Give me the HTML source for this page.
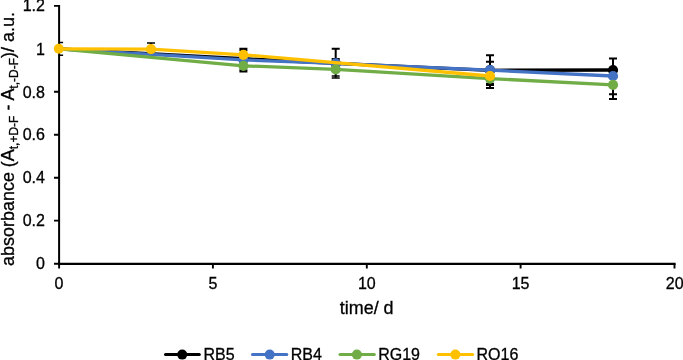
<!DOCTYPE html>
<html><head><meta charset="utf-8"><title>chart</title>
<style>
html,body{margin:0;padding:0;background:#fff;}
body{width:683px;height:360px;overflow:hidden;}
svg{display:block;will-change:transform;}
text{font-family:"Liberation Sans",Arial,Helvetica,sans-serif;fill:#000;stroke:#000;stroke-width:0.3px;}
.tk{font-size:16px;}
.ti{font-size:17.95px;}
.sub{font-size:12px;}
</style></head><body>
<svg width="683" height="360" viewBox="0 0 683 360">
<rect x="0" y="0" width="683" height="360" fill="#fff"/>

<!-- error bars -->
<g stroke="#000" stroke-width="2" fill="none">
  <path d="M59 42.5H63.1M59 55.2H63.1" stroke-width="1.6"/>
  <path d="M151 43.1V49M147 43.1H155" stroke-width="1.5"/>
  <path d="M243.4 48.8V70.9"/><path d="M239.4 49.45H247.4M239.4 70.8H247.4" stroke-width="3.2"/>
  <path d="M335.7 48.8V77.7M331.7 48.8H339.7M331.7 58.9H339.7"/>
  <path d="M331.7 76H339.7M331.7 77.9H339.7" stroke-width="1.5"/>
  <path d="M490 55.2V88.3M486 55.2H494M486 61.8H494M486 83.8H494M486 85.1H494M486 88.1H494"/>
  <path d="M613 58.6V98.9M609 58.6H617M609 94.3H617M609 98.9H617"/>
</g>

<!-- series -->
<g fill="none" stroke-width="3.3" stroke-linejoin="round" stroke-linecap="round">
  <polyline stroke="#000000" points="59.1,48.8 243.4,58.7 335.7,63.4 490,70.3 613,70"/>
  <g fill="#000000"><circle cx="613" cy="70" r="5.1"/><circle cx="490" cy="70.2" r="5.1"/><circle cx="335.7" cy="63.4" r="5.1"/><circle cx="243.4" cy="58.7" r="5.1"/></g>
  <polyline stroke="#4472C4" points="59.1,48.8 243.4,59.9 335.7,63.3 490,70.2 613,76"/>
  <g fill="#4472C4"><circle cx="613" cy="76" r="5.1"/><circle cx="490" cy="70.2" r="5.1"/><circle cx="335.7" cy="63.3" r="5.1"/><circle cx="243.4" cy="59.9" r="5.1"/></g>
  <polyline stroke="#70AD47" points="59.1,48.8 243.4,65.8 335.7,69.4 490,78.6 613,84.8"/>
  <g fill="#70AD47"><circle cx="613" cy="84.8" r="5.1"/><circle cx="490" cy="78.6" r="5.1"/><circle cx="335.7" cy="69.4" r="5.1"/><circle cx="243.4" cy="65.8" r="5.1"/></g>
  <polyline stroke="#FFC000" points="59.1,48.8 151,49.2 243.4,54.8 490,76"/>
  <g fill="#FFC000"><circle cx="490" cy="76" r="5.1"/><circle cx="243.4" cy="54.8" r="5.1"/><circle cx="151" cy="49.2" r="5.1"/></g>
</g>

<!-- axes -->
<g stroke="#000" fill="none">
  <path stroke-width="2" d="M59.1 5V264.8"/>
  <path stroke-width="2.2" d="M58.1 263.85H675.6"/>
  <path stroke-width="1.9" d="M54 5.9H59M54 48.8H59M54 91.8H59M54 134.7H59M54 177.7H59M54 220.6H59M54 263.8H59"/>
  <path stroke-width="1.9" d="M59.1 263.8V268.6M212.9 263.8V268.6M366.8 263.8V268.6M520.6 263.8V268.6M674.5 263.8V268.6"/>
</g>
<circle cx="58.8" cy="48.7" r="5" fill="#FFC000"/>

<!-- y tick labels -->
<g class="tk" text-anchor="end">
  <text x="44.9" y="10.7">1.2</text>
  <text x="44.9" y="54.6">1</text>
  <text x="44.9" y="97.5">0.8</text>
  <text x="44.9" y="140.4">0.6</text>
  <text x="44.9" y="183.4">0.4</text>
  <text x="44.9" y="226.3">0.2</text>
  <text x="44.9" y="269.4">0</text>
</g>
<!-- x tick labels -->
<g class="tk" text-anchor="middle">
  <text x="59" y="288.6">0</text>
  <text x="212.9" y="288.6">5</text>
  <text x="366.8" y="288.6">10</text>
  <text x="520.6" y="288.6">15</text>
  <text x="674.7" y="288.6">20</text>
</g>
<text class="ti" x="366.7" y="313.8" text-anchor="middle">time/ d</text>
<text class="ti" transform="translate(13.8,139) rotate(-90)" text-anchor="middle">absorbance (A<tspan class="sub" dy="4">t,+D-F</tspan><tspan dy="-4"> - A</tspan><tspan class="sub" dy="4">t,-D-F</tspan><tspan dy="-4">)/ a.u.</tspan></text>

<!-- legend -->
<g stroke-width="3" stroke-linecap="round" fill="none">
  <path stroke="#000000" d="M165.5 354.6H199.3"/><circle cx="182.2" cy="354.6" r="5" fill="#000000"/>
  <path stroke="#4472C4" d="M252.5 354.6H286.8"/><circle cx="269.7" cy="354.6" r="5" fill="#4472C4"/>
  <path stroke="#70AD47" d="M340 354.6H374.3"/><circle cx="356.9" cy="354.6" r="5" fill="#70AD47"/>
  <path stroke="#FFC000" d="M438.3 354.6H472.7"/><circle cx="455.4" cy="354.6" r="5" fill="#FFC000"/>
</g>
<g class="tk">
  <text x="203.5" y="359.9">RB5</text>
  <text x="290.7" y="359.9">RB4</text>
  <text x="378.2" y="359.9">RG19</text>
  <text x="476.5" y="359.9">RO16</text>
</g>
</svg>
</body></html>
